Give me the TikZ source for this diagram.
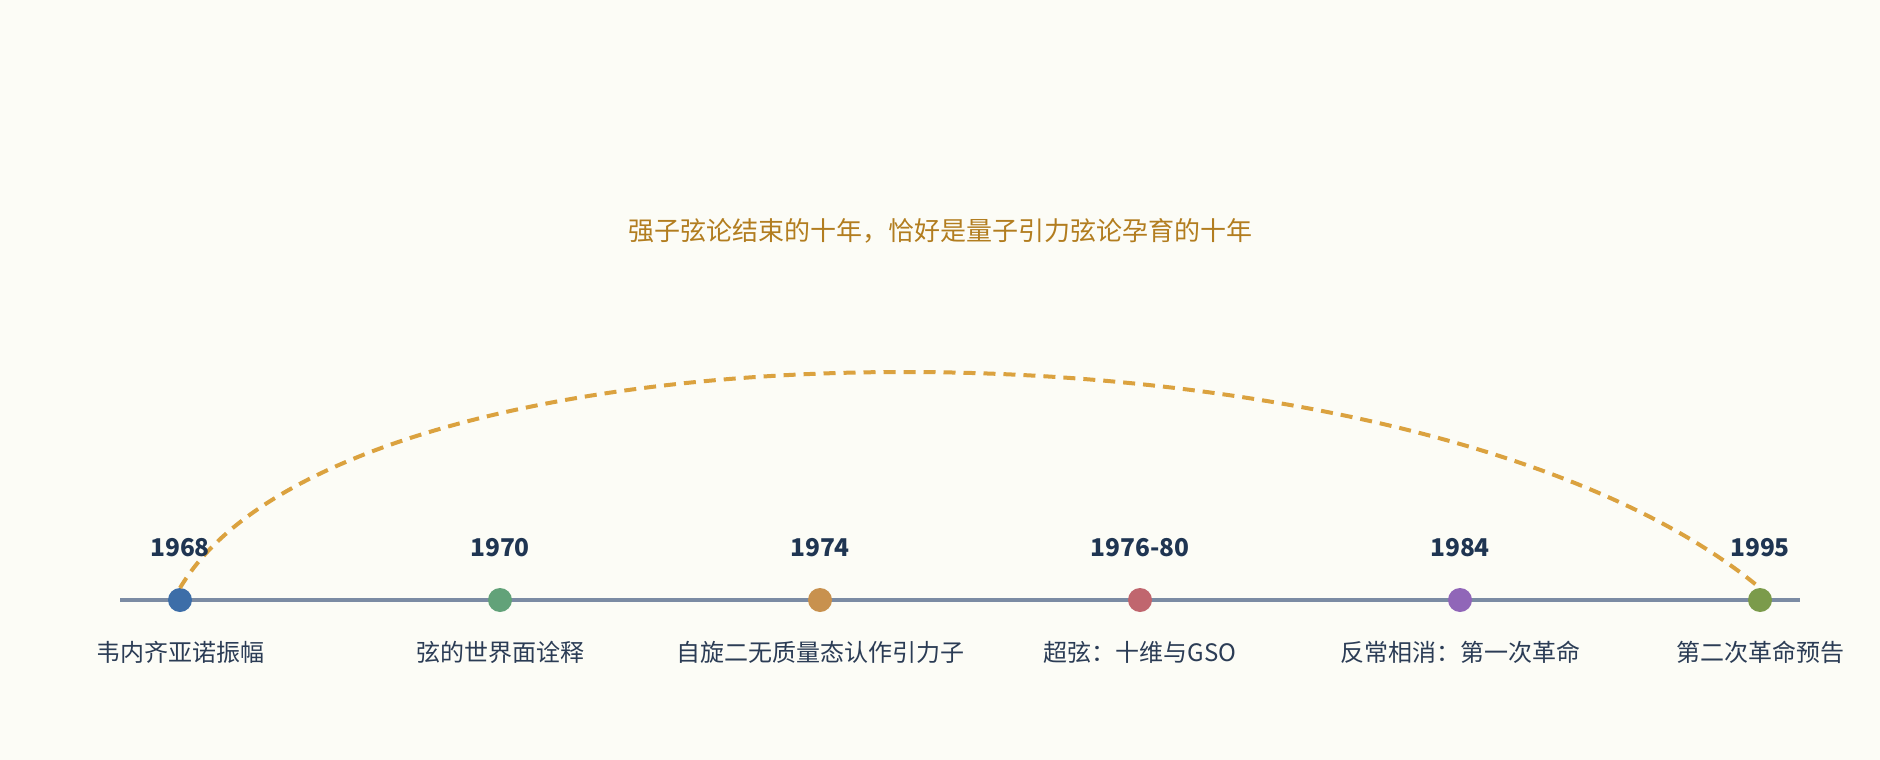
\documentclass[tikz,border=0pt]{standalone}
\usepackage{fontspec}
\newfontfamily\cjk{Noto Sans CJK SC}
\definecolor{bgc}{HTML}{FCFCF6}
\definecolor{axisc}{HTML}{7B8BA3}
\definecolor{yearc}{HTML}{1F3552}
\definecolor{labc}{HTML}{2B3C55}
\definecolor{titlec}{HTML}{B27D1F}
\definecolor{arcc}{HTML}{DBA23F}
\definecolor{c1}{HTML}{3D6EA8}
\definecolor{c2}{HTML}{62A279}
\definecolor{c3}{HTML}{C8914E}
\definecolor{c4}{HTML}{C0666E}
\definecolor{c5}{HTML}{9066B8}
\definecolor{c6}{HTML}{7B9B4B}
\begin{document}
\begin{tikzpicture}[x=1pt,y=-1pt,
  dotn/.style={circle,inner sep=0pt,outer sep=0pt,minimum size=24pt},
  yearn/.style={font=\cjk\bfseries\fontsize{24.5}{28}\selectfont,text=yearc,inner sep=0pt},
  labn/.style={font=\cjk\fontsize{24}{28}\selectfont,text=labc,inner sep=0pt},
  titlen/.style={font=\cjk\fontsize{26}{30}\selectfont,text=titlec,inner sep=0pt},
  axisl/.style={draw=axisc,line width=4pt},
  arcl/.style={draw=arcc,line width=4pt,dash pattern=on 12pt off 8pt}]
\fill[bgc] (0,0) rectangle (1880,760);
\useasboundingbox (0,0) rectangle (1880,760);
\coordinate (axL) at (120,600);
\coordinate (axR) at (1800,600);
\draw[axisl] (axL) -- (axR);
\node[dotn,fill=c1] (d1) at (180,600) {};
\node[dotn,fill=c2] (d2) at (500,600) {};
\node[dotn,fill=c3] (d3) at (820,600) {};
\node[dotn,fill=c4] (d4) at (1140,600) {};
\node[dotn,fill=c5] (d5) at (1460,600) {};
\node[dotn,fill=c6] (d6) at (1760,600) {};
\draw[arcl] (d1.north) .. controls (350,300) and (1415,300) .. (d6.north);
\node[yearn] (y1) at (180,548) {1968};
\node[yearn] (y2) at (500,548) {1970};
\node[yearn] (y3) at (820,548) {1974};
\node[yearn] (y4) at (1140,548) {1976-80};
\node[yearn] (y5) at (1460,548) {1984};
\node[yearn] (y6) at (1760,548) {1995};
\node[labn] (l1) at (180,652) {韦内齐亚诺振幅};
\node[labn] (l2) at (500,652) {弦的世界面诠释};
\node[labn] (l3) at (820,652) {自旋二无质量态认作引力子};
\node[labn] (l4) at (1140,652) {超弦：十维与GSO};
\node[labn] (l5) at (1460,652) {反常相消：第一次革命};
\node[labn] (l6) at (1760,652) {第二次革命预告};
\node[titlen] (t) at (940,231) {强子弦论结束的十年，恰好是量子引力弦论孕育的十年};
\end{tikzpicture}
\end{document}
